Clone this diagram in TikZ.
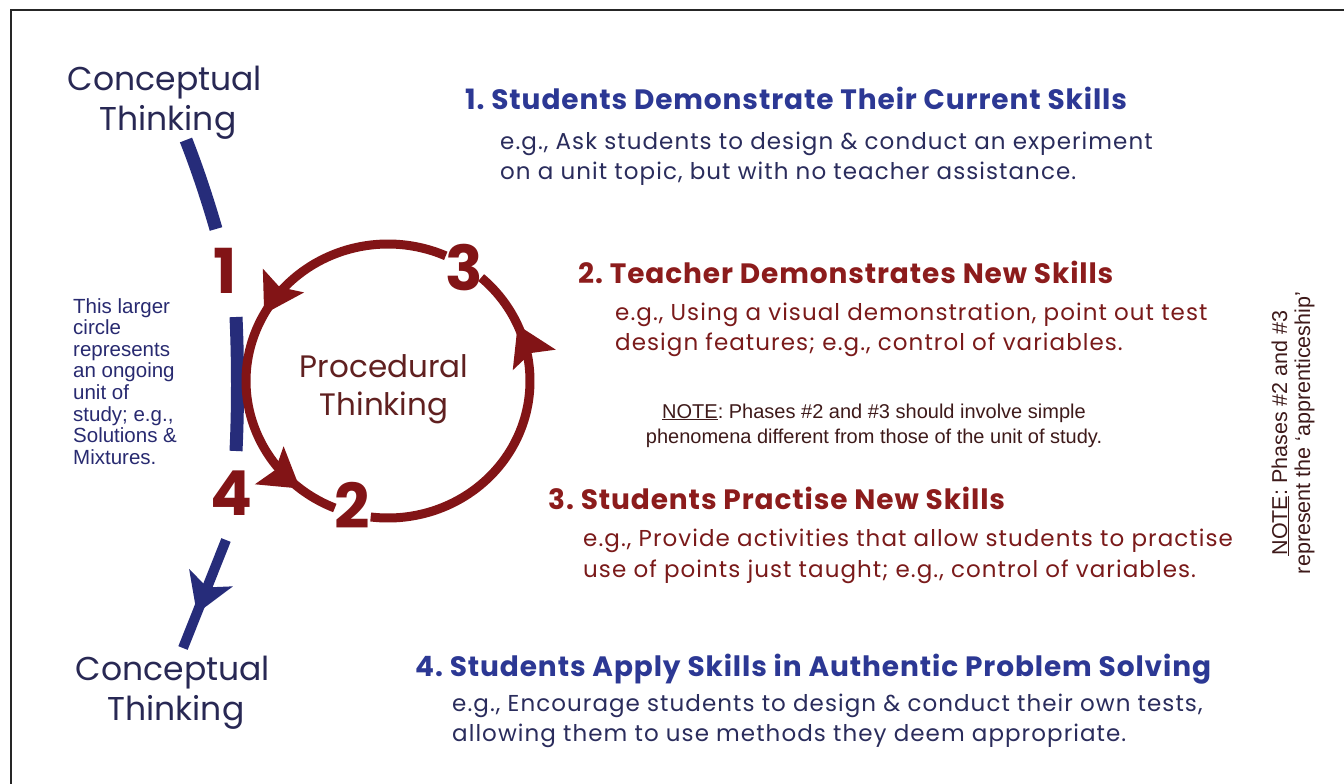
\documentclass[tikz,border=0pt]{standalone}
\usepackage{fontspec}
\setmainfont{Poppins}
\newfontfamily\headfont{Poppins}[LetterSpace=3.2]
\newfontfamily\bodyfont{Poppins}[LetterSpace=4.6]
\newfontfamily\notefont{Liberation Sans}
\usetikzlibrary{arrows.meta,decorations.markings}

\definecolor{headblue}{RGB}{44,56,148}
\definecolor{bodyblue}{RGB}{42,44,92}
\definecolor{headred}{RGB}{140,28,28}
\definecolor{bodyred}{RGB}{122,26,26}
\definecolor{looped}{RGB}{130,20,22}
\definecolor{unitblue}{RGB}{38,44,122}
\definecolor{conceptink}{RGB}{40,40,84}
\definecolor{procink}{RGB}{96,32,32}
\definecolor{noteink}{RGB}{62,26,26}
\definecolor{leftink}{RGB}{40,42,112}

\tikzset{
  looptip/.tip={Stealth[length=38pt,width=46pt,inset=7pt]},
  unittip/.tip={Stealth[length=38pt,width=46pt,inset=10pt]},
}

\begin{document}
\frenchspacing
\begin{tikzpicture}[x=1pt,y=-1pt,
  heading/.style={anchor=base west, inner sep=0pt, font=\headfont\fontsize{28}{32}\selectfont\bfseries},
  bodytext/.style={anchor=base west, inner sep=0pt, font=\bodyfont\fontsize{23}{26}\selectfont},
  thinking/.style={anchor=base, inner sep=0pt, font=\fontsize{33}{36}\selectfont},
  numeral/.style={anchor=base, inner sep=0pt, text=looped, font=\fontsize{62}{62}\selectfont\bfseries},
  leftnote/.style={anchor=base west, inner sep=0pt, text=leftink, font=\notefont\fontsize{20.5}{22}\selectfont},
  midnote/.style={anchor=base, inner sep=0pt, text=noteink, font=\notefont\fontsize{20}{22}\selectfont},
  loop/.style={draw=looped, color=looped, line width=9pt},
  unitbar/.style={draw=unitblue, color=unitblue, line width=13pt},
]
\useasboundingbox (0,0) rectangle (1344,784);
\fill[white] (0,0) rectangle (1344,784);

% frame
\draw[line width=2pt, black!85] (11,784) -- (11,10) -- (1344,10);

% larger circle: the unit of study
\draw[unitbar] (186,140) .. controls (197,168) and (207,198) .. (216,229);
\draw[unitbar] (236,317) .. controls (238,360) and (238,410) .. (236,451);
\draw[unitbar, line width=10pt, postaction={decorate},
  decoration={markings, mark=at position 0.68 with {\arrow{unittip}}}]
  (226,540) -- (183,648);

% procedural loop
\draw[loop, postaction={decorate},
  decoration={markings,
    mark=at position 0.47 with {\arrow{looptip}},
    mark=at position 0.91 with {\arrow{looptip}}}]
  plot[domain=-66:-248, samples=120] ({388+142*cos(\x)},{381+137*sin(\x)});
\draw[loop, postaction={decorate},
  decoration={markings, mark=at position 0.83 with {\arrow{looptip}}}]
  plot[domain=-263:-409, samples=100] ({388+142*cos(\x)},{381+137*sin(\x)});

% phase numerals
\node[numeral] (n1) at (225,293) {1};
\node[numeral] (n3) at (464,290) {3};
\node[numeral] (n4) at (231,515) {4};
\node[numeral] (n2) at (352,528) {2};

% circle captions
\node[thinking, text=conceptink] (ct1) at (165,90) {Conceptual};
\node[thinking, text=conceptink] (ct2) at (168,130) {Thinking};
\node[thinking, text=conceptink] (cb1) at (173,680) {Conceptual};
\node[thinking, text=conceptink] (cb2) at (176,720) {Thinking};
\node[thinking, text=procink, font=\fontsize{31}{34}\selectfont] (pt1) at (384,377) {Procedural};
\node[thinking, text=procink, font=\fontsize{31}{34}\selectfont] (pt2) at (384,415) {Thinking};

% side note on the larger circle
\node[leftnote] (l1) at (73,313) {This larger};
\node[leftnote] (l2) at (73,334.6) {circle};
\node[leftnote] (l3) at (73,356.2) {represents};
\node[leftnote] (l4) at (73,377.8) {an ongoing};
\node[leftnote] (l5) at (73,399.4) {unit of};
\node[leftnote] (l6) at (73,421) {study; e.g.,};
\node[leftnote] (l7) at (73,442.6) {Solutions \&};
\node[leftnote] (l8) at (73,464.2) {Mixtures.};

% phase 1
\node[heading, text=headblue] (h1) at (465,109) {1. Students Demonstrate Their Current Skills};
\node[bodytext, text=bodyblue] (b1a) at (500,149) {e.g., Ask students to design \& conduct an experiment};
\node[bodytext, text=bodyblue] (b1b) at (500,179) {on a unit topic, but with no teacher assistance.};

% phase 2
\node[heading, text=headred] (h2) at (578,283) {2. Teacher Demonstrates New Skills};
\node[bodytext, text=bodyred] (b2a) at (615,320) {e.g., Using a visual demonstration, point out test};
\node[bodytext, text=bodyred] (b2b) at (615,350) {design features; e.g., control of variables.};

% note on phases 2 and 3
\node[midnote] (m1) at (874,418) {\underline{NOTE}: Phases \#2 and \#3 should involve simple};
\node[midnote] (m2) at (874,443) {phenomena different from those of the unit of study.};

% phase 3
\node[heading, text=headred] (h3) at (548,509) {3. Students Practise New Skills};
\node[bodytext, text=bodyred] (b3a) at (583,546) {e.g., Provide activities that allow students to practise};
\node[bodytext, text=bodyred] (b3b) at (583,577) {use of points just taught; e.g., control of variables.};

% phase 4
\node[heading, text=headblue] (h4) at (415,676) {4. Students Apply Skills in Authentic Problem Solving};
\node[bodytext, text=bodyblue] (b4a) at (452,711) {e.g., Encourage students to design \& conduct their own tests,};
\node[bodytext, text=bodyblue] (b4b) at (452,741) {allowing them to use methods they deem appropriate.};

% vertical note
\node[midnote, rotate=90, font=\notefont\fontsize{21.5}{22}\selectfont] (v1) at (1287,433) {\underline{NOTE}: Phases \#2 and \#3};
\node[midnote, rotate=90, font=\notefont\fontsize{21.5}{22}\selectfont] (v2) at (1310,433) {represent the ‘apprenticeship’};
\end{tikzpicture}
\end{document}
